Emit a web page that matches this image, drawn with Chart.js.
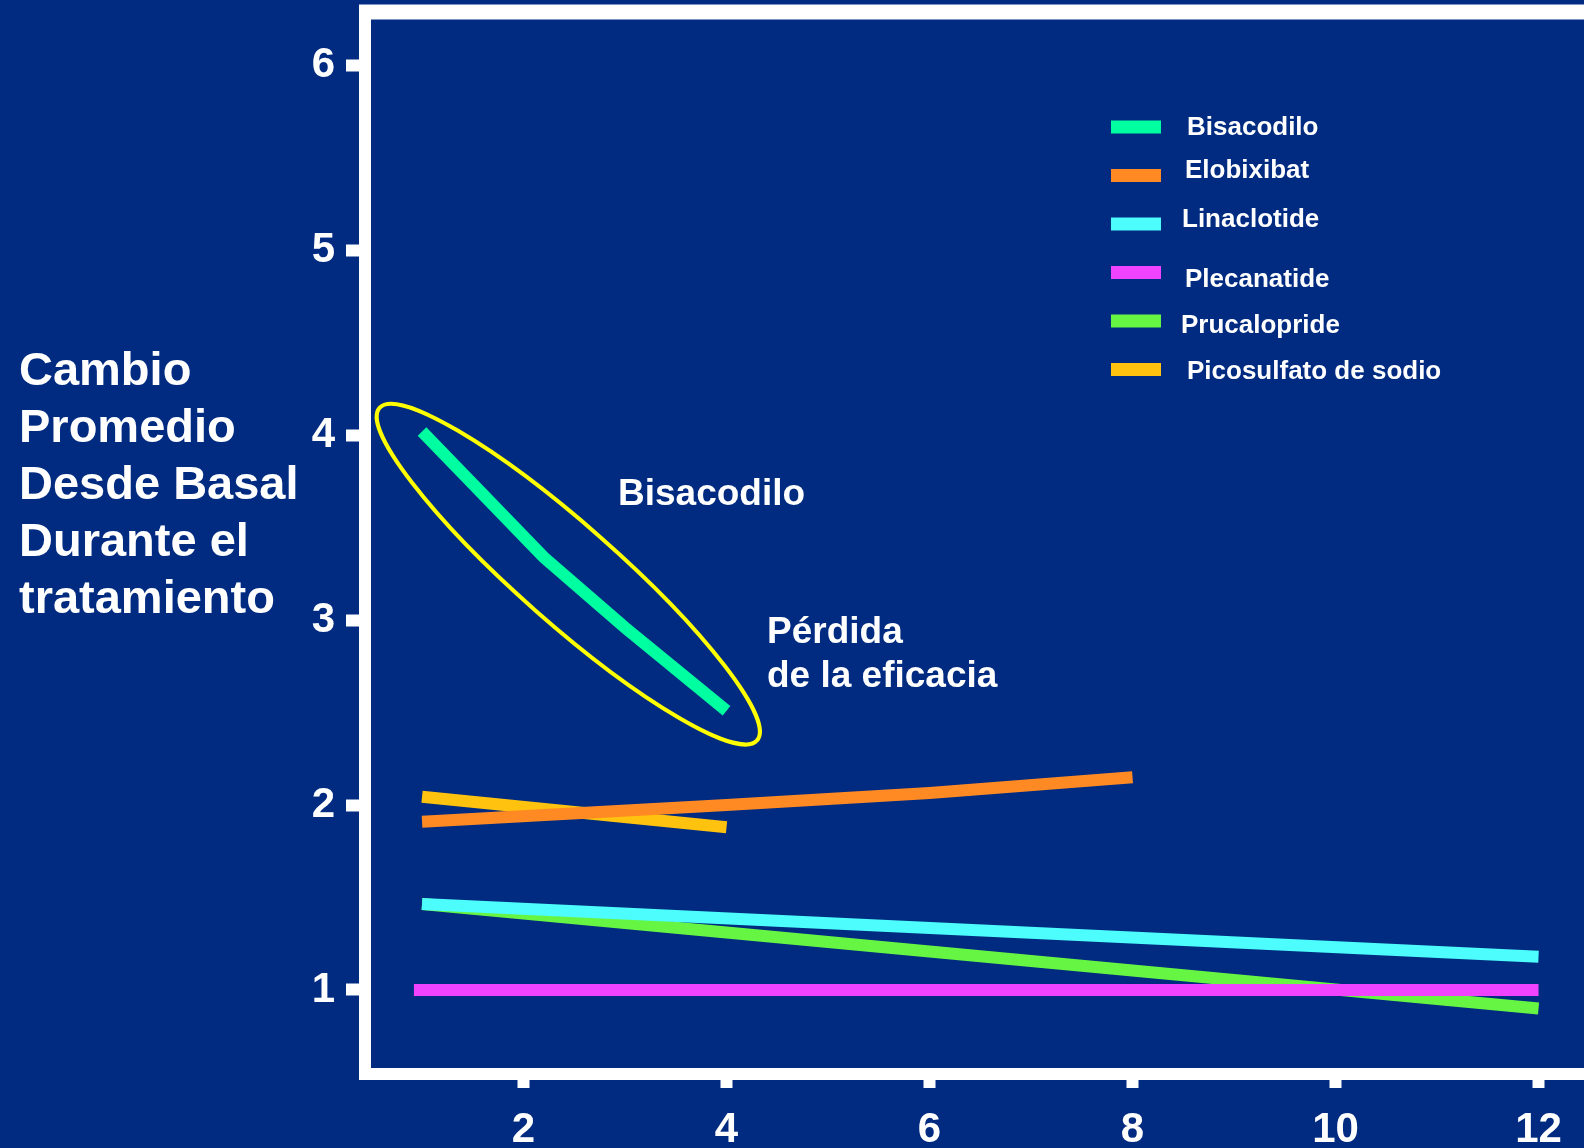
<!DOCTYPE html>
<html lang="es">
<head>
<meta charset="utf-8">
<title>Cambio promedio desde basal</title>
<script src="https://cdn.jsdelivr.net/npm/chart.js@4.4.1/dist/chart.umd.min.js"></script>
<style>
    html, body { margin: 0; padding: 0; background: #002b80; }
    #wrap { width: 1584px; height: 1148px; }
</style>
</head>
<body>
<div id="wrap"><canvas id="chart" width="1584" height="1148"></canvas></div>
<script>
// series names and colours (legend order)
const seriesNames = ['Bisacodilo', 'Elobixibat', 'Linaclotide', 'Plecanatide', 'Prucalopride', 'Picosulfato de sodio'];
const seriesColors = ['#00ffa0', '#ff8a24', '#4dfcfc', '#f043ff', '#66f542', '#ffc20e'];

// weeks / mean change for each treatment
const bisacodiloWeeks = [1, 2.2, 3, 4];
const bisacodiloValues = [4.02, 3.34, 2.96, 2.51];
const elobixibatWeeks = [1, 4, 6, 8];
const elobixibatValues = [1.91, 2.0, 2.065, 2.15];
const linaclotideWeeks = [1, 12];
const linaclotideValues = [1.465, 1.18];
const plecanatideWeeks = [0.92, 12];
const plecanatideValues = [1.0, 1.0];
const prucaloprideWeeks = [1, 12];
const prucaloprideValues = [1.465, 0.9];
const picosulfatoWeeks = [1, 4];
const picosulfatoValues = [2.045, 1.88];

const xTicks = [2, 4, 6, 8, 10, 12];
const yTicks = [1, 2, 3, 4, 5, 6];

const yAxisTitle = ['Cambio', 'Promedio', 'Desde Basal', 'Durante el', 'tratamiento'];
const noteTitle = 'Bisacodilo';
const noteLines = ['Pérdida', 'de la eficacia'];

const BG = '#002b80';
const FONT = "'Liberation Sans', Arial, sans-serif";
Chart.defaults.font.family = FONT;

// legend labels in the original sit a little unevenly next to their swatches
const legendTextShiftY = [0, -6, -5, 6, 4, 1];
const legendTextShiftX = [2, 0, -3, 0, -4, 2];

const seriesWeeks = [bisacodiloWeeks, elobixibatWeeks, linaclotideWeeks, plecanatideWeeks, prucaloprideWeeks, picosulfatoWeeks];
const seriesValues = [bisacodiloValues, elobixibatValues, linaclotideValues, plecanatideValues, prucaloprideValues, picosulfatoValues];

const datasets = seriesNames.map((name, i) => ({
    label: name,
    data: seriesWeeks[i].map((w, j) => ({ x: w, y: seriesValues[i][j] })),
    borderColor: seriesColors[i],
    backgroundColor: seriesColors[i],
    borderWidth: 12,
    pointRadius: 0,
    tension: 0,
    fill: false
}));

const background = {
    id: 'background',
    beforeDraw(chart) {
        const ctx = chart.ctx;
        ctx.save();
        ctx.fillStyle = BG;
        ctx.fillRect(0, 0, chart.width, chart.height);
        ctx.restore();
    }
};

// white frame: left, bottom and top
const frame = {
    id: 'frame',
    afterDatasetsDraw(chart) {
        const ctx = chart.ctx;
        const a = chart.chartArea;
        ctx.save();
        ctx.strokeStyle = '#ffffff';
        ctx.lineJoin = 'miter';
        ctx.lineWidth = 12;
        ctx.beginPath();
        ctx.moveTo(a.left, a.top);
        ctx.lineTo(a.left, a.bottom);
        ctx.lineTo(a.right + 10, a.bottom);
        ctx.stroke();
        ctx.lineWidth = 15;
        ctx.beginPath();
        ctx.moveTo(a.left - 6, a.top);
        ctx.lineTo(a.right + 10, a.top);
        ctx.stroke();
        ctx.restore();
    }
};

// yellow ellipse round the Bisacodilo line, plus the notes
const notes = {
    id: 'notes',
    afterDatasetsDraw(chart) {
        const ctx = chart.ctx;
        const xs = chart.scales.x;
        const ys = chart.scales.y;
        const last = bisacodiloWeeks.length - 1;
        const x1 = xs.getPixelForValue(bisacodiloWeeks[0]);
        const y1 = ys.getPixelForValue(bisacodiloValues[0]);
        const x2 = xs.getPixelForValue(bisacodiloWeeks[last]);
        const y2 = ys.getPixelForValue(bisacodiloValues[last]);
        const cx = (x1 + x2) / 2 - 6;
        const cy = (y1 + y2) / 2 + 3;
        const rot = Math.atan2(y2 - y1, x2 - x1) - 0.02;
        const rx = Math.hypot(x2 - x1, y2 - y1) / 2 + 45;

        ctx.save();
        ctx.strokeStyle = '#ffff00';
        ctx.lineWidth = 4;
        ctx.beginPath();
        ctx.ellipse(cx, cy, rx, 49, rot, 0, Math.PI * 2);
        ctx.stroke();

        ctx.fillStyle = '#ffffff';
        ctx.font = 'bold 37px ' + FONT;
        ctx.textAlign = 'left';
        ctx.textBaseline = 'alphabetic';
        ctx.fillText(noteTitle, 618, 505);
        noteLines.forEach((line, i) => ctx.fillText(line, 767, 643 + i * 44));
        ctx.restore();
    }
};

// legend in the upper right corner of the plot
const sideLegend = {
    id: 'sideLegend',
    afterDraw(chart) {
        const ctx = chart.ctx;
        ctx.save();
        ctx.font = 'bold 26px ' + FONT;
        ctx.textAlign = 'left';
        ctx.textBaseline = 'middle';
        chart.data.datasets.forEach((ds, i) => {
            const y = 127 + i * 48.5;
            ctx.fillStyle = ds.borderColor;
            ctx.fillRect(1111, y - 6.5, 50, 13);
            ctx.fillStyle = '#ffffff';
            ctx.fillText(ds.label, 1185 + legendTextShiftX[i], y + 1 + legendTextShiftY[i]);
        });
        ctx.restore();
    }
};

// multi-line y axis title on the left
const leftTitle = {
    id: 'leftTitle',
    afterDraw(chart) {
        const ctx = chart.ctx;
        ctx.save();
        ctx.fillStyle = '#ffffff';
        ctx.font = 'bold 47px ' + FONT;
        ctx.textAlign = 'left';
        ctx.textBaseline = 'alphabetic';
        yAxisTitle.forEach((line, i) => ctx.fillText(line, 19, 385 + i * 57));
        ctx.restore();
    }
};

new Chart(document.getElementById('chart').getContext('2d'), {
    type: 'line',
    data: { datasets: datasets },
    options: {
        responsive: false,
        animation: false,
        devicePixelRatio: 1,
        layout: { padding: { top: 12, right: 0, bottom: 0, left: 0 } },
        plugins: {
            legend: { display: false },
            tooltip: { enabled: false }
        },
        scales: {
            x: {
                type: 'linear',
                min: 0.438,
                max: 12.448,
                border: { display: false },
                grid: { drawOnChartArea: false, color: '#ffffff', tickLength: 14, tickWidth: 12 },
                ticks: { color: '#ffffff', font: { size: 42, weight: 'bold' }, padding: 17 },
                afterBuildTicks: function(scale) {
                    scale.ticks = xTicks.map(v => ({ value: v }));
                },
                afterFit: function(scale) {
                    scale.height = 74;
                    scale.paddingLeft = 0;
                    scale.paddingRight = 0;
                }
            },
            y: {
                type: 'linear',
                min: 0.5455,
                max: 6.289,
                border: { display: false },
                grid: { drawOnChartArea: false, color: '#ffffff', tickLength: 19, tickWidth: 12 },
                ticks: { color: '#ffffff', font: { size: 42, weight: 'bold' }, padding: 11 },
                afterBuildTicks: function(scale) {
                    scale.ticks = yTicks.map(v => ({ value: v }));
                },
                afterFit: function(scale) {
                    scale.width = 365;
                    scale.paddingTop = 0;
                    scale.paddingBottom = 0;
                }
            }
        }
    },
    plugins: [background, frame, notes, sideLegend, leftTitle]
});
</script>
</body>
</html>
